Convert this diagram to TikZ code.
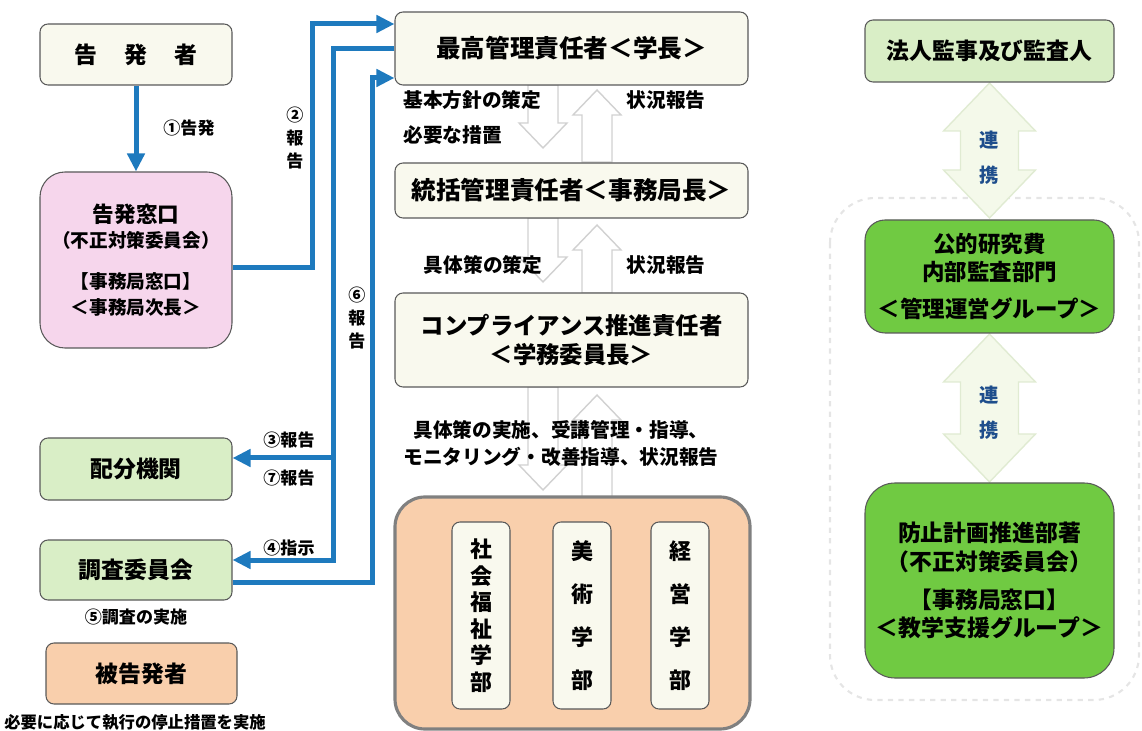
\documentclass[tikz,border=0pt]{standalone}
\usepackage{fontspec}
\setmainfont{Noto Sans CJK JP}
\usetikzlibrary{positioning,arrows.meta}
\definecolor{flowblue}{RGB}{30,122,190}
\definecolor{cream}{RGB}{249,249,238}
\definecolor{softpink}{RGB}{246,214,236}
\definecolor{palegreen}{RGB}{217,238,198}
\definecolor{peach}{RGB}{249,207,172}
\definecolor{leafgreen}{RGB}{112,202,66}
\definecolor{tiegreen}{RGB}{244,249,234}
\definecolor{tieedge}{RGB}{224,235,210}
\definecolor{tieblue}{RGB}{30,78,140}
\begin{document}
\begin{tikzpicture}[
    box/.style={draw=black!65, line width=0.6pt, rounded corners=0.16cm, align=center, inner sep=0pt,
                font=\bfseries\fontsize{13}{17}\selectfont},
    head/.style={box, fill=cream, minimum width=7.06cm, font=\bfseries\fontsize{14}{17}\selectfont},
    fac/.style={box, fill=cream, minimum width=1.16cm, minimum height=3.74cm,
                font=\bfseries\fontsize{12.5}{#1}\selectfont},
    note/.style={font=\bfseries\fontsize{9.7}{15}\selectfont, inner sep=0pt, align=center},
    mid/.style={font=\bfseries\fontsize{11.2}{15.4}\selectfont, inner sep=0pt, align=center},
    flow/.style={draw=flowblue, line width=0.1cm, -{Triangle[length=0.36cm,width=0.34cm]}},
    hollow/.style={draw=black!18, line width=0.8pt, fill=white},
    tie/.style={draw=tieedge, line width=0.8pt, fill=tiegreen}]
\useasboundingbox (0,0) rectangle (22.84,-14.62);

% left column
\node[box, fill=cream, minimum width=3.84cm, minimum height=1.22cm] (accuser) at (2.72,-1.09)
    {告\hspace{0.54cm}発\hspace{0.54cm}者};
\node[box, fill=softpink, rounded corners=0.5cm, minimum width=3.84cm, minimum height=3.52cm,
      font=\bfseries\fontsize{10.6}{14.4}\selectfont] (window) at (2.72,-5.2)
    {{\fontsize{12.3}{14.4}\selectfont 告発窓口}\\（不正対策委員会）\\[0.32cm]【事務局窓口】\\＜事務局次長＞};
\node[box, fill=palegreen, minimum width=3.84cm, minimum height=1.24cm] (funder) at (2.72,-9.38) {配分機関};
\node[box, fill=palegreen, minimum width=3.84cm, minimum height=1.2cm] (committee) at (2.72,-11.4) {調査委員会};
\node[box, fill=peach, minimum width=3.82cm, minimum height=1.22cm] (accused) at (2.83,-13.47) {被告発者};

\node[note] (l1) at (3.78,-2.56) {①告発};
\node[note, font=\bfseries\fontsize{9.7}{13}\selectfont] (l2) at (5.9,-2.76) {②\\報\\告};
\node[note, font=\bfseries\fontsize{9.7}{13}\selectfont] (l6) at (7.14,-6.36) {⑥\\報\\告};
\node[note] (l3) at (5.78,-8.8) {③報告};
\node[note] (l7) at (5.78,-9.56) {⑦報告};
\node[note] (l4) at (5.78,-10.96) {④指示};
\node[note] (l5) at (2.72,-12.34) {⑤調査の実施};
\node[note, font=\bfseries\fontsize{9.3}{15}\selectfont] (l8) at (2.7,-14.44) {必要に応じて執行の停止措置を実施};

% middle column
\foreach \a/\b/\c/\d in {-1.7/-2.96/-3.24/-1.8, -4.36/-5.64/-5.86/-4.5, -7.74/-9.8/-9.94/-7.9}
{
  \draw[hollow] (10.56,\a) -- (11.16,\a) -- (11.16,\b+0.5) -- (11.34,\b+0.5) -- (10.86,\b)
      -- (10.38,\b+0.5) -- (10.56,\b+0.5) -- cycle;
  \draw[hollow] (11.64,\c) -- (12.24,\c) -- (12.24,\d-0.5) -- (12.42,\d-0.5) -- (11.94,\d)
      -- (11.46,\d-0.5) -- (11.64,\d-0.5) -- cycle;
}
\node[head, minimum height=1.46cm] (president) at (11.43,-0.97) {最高管理責任者＜学長＞};
\node[head, minimum height=1.1cm] (director) at (11.43,-3.81) {統括管理責任者＜事務局長＞};
\node[head, minimum height=1.88cm, font=\bfseries\fontsize{13.3}{17}\selectfont] (compliance) at (11.43,-6.8)
    {コンプライアンス推進責任者\\＜学務委員長＞};

\node[mid, anchor=west] (m1) at (8.06,-2.0) {基本方針の策定};
\node[mid, anchor=west] (m2) at (8.06,-2.7) {必要な措置};
\node[mid] (m3) at (13.32,-2.0) {状況報告};
\node[mid] (m4) at (9.66,-5.3) {具体策の策定};
\node[mid] (m5) at (13.32,-5.3) {状況報告};
\node[mid] (m6) at (11.22,-8.87) {具体策の実施、受講管理・指導、\\モニタリング・改善指導、状況報告};

\node[box, fill=peach, draw=black!50, line width=1.8pt, rounded corners=0.6cm,
      minimum width=7.1cm, minimum height=4.64cm] (faculties) at (11.45,-12.26) {};
\node[fac=15.1pt] (welfare) at (9.62,-12.31) {社\\会\\福\\祉\\学\\部};
\node[fac=24.5pt] (arts) at (11.64,-12.31) {美\\術\\学\\部};
\node[fac=24.5pt] (business) at (13.6,-12.31) {経\\営\\学\\部};

% right column
\draw[dashed, draw=black!10, line width=1.2pt, rounded corners=0.9cm] (16.6,-3.96) rectangle (22.78,-14.0);
\foreach \a/\b/\m in {-1.66/-4.36/-3.15, -6.68/-9.64/-8.25}
{
  \draw[tie] (19.79,\a) -- (20.71,\a-0.96) -- (20.37,\a-0.96) -- (20.37,\b+0.96) -- (20.71,\b+0.96)
      -- (19.79,\b) -- (18.87,\b+0.96) -- (19.21,\b+0.96) -- (19.21,\a-0.96) -- (18.87,\a-0.96) -- cycle;
  \node[note, text=tieblue, font=\bfseries\fontsize{11}{19.9}\selectfont] at (19.79,\m) {連\\携};
}
\node[box, fill=palegreen, minimum width=4.98cm, minimum height=1.24cm] (auditor) at (19.79,-1.02) {法人監事及び監査人};
\node[box, fill=leafgreen, rounded corners=0.4cm, minimum width=4.98cm, minimum height=2.26cm,
      font=\bfseries\fontsize{12.8}{16}\selectfont] (internal) at (19.79,-5.53)
    {公的研究費\\内部監査部門\\[0.18cm]＜管理運営グループ＞};
\node[box, fill=leafgreen, rounded corners=0.6cm, minimum width=4.98cm, minimum height=3.9cm,
      font=\bfseries\fontsize{13}{16}\selectfont] (prevention) at (19.79,-11.61)
    {防止計画推進部著\\（不正対策委員会）\\[0.2cm]【事務局窓口】\\＜教学支援グループ＞};

% connectors
\coordinate (j3) at (6.66,-9.16);
\coordinate (j4) at (6.66,-11.2);
\coordinate (j6) at (7.44,-1.56);
\draw[flow] (accuser) -- (window);
\draw[flow] ([yshift=-0.16cm]window.east) -- (6.24,-5.36) |- ([yshift=0.49cm]president.west);
\draw[flow] (president.west) -| (j4) -- (committee.east |- j4);
\draw[flow] (j3) -- (funder.east |- j3);
\draw[flow] ([yshift=-0.24cm]committee.east) -| (j6) -- (president.west |- j6);
\end{tikzpicture}
\end{document}
